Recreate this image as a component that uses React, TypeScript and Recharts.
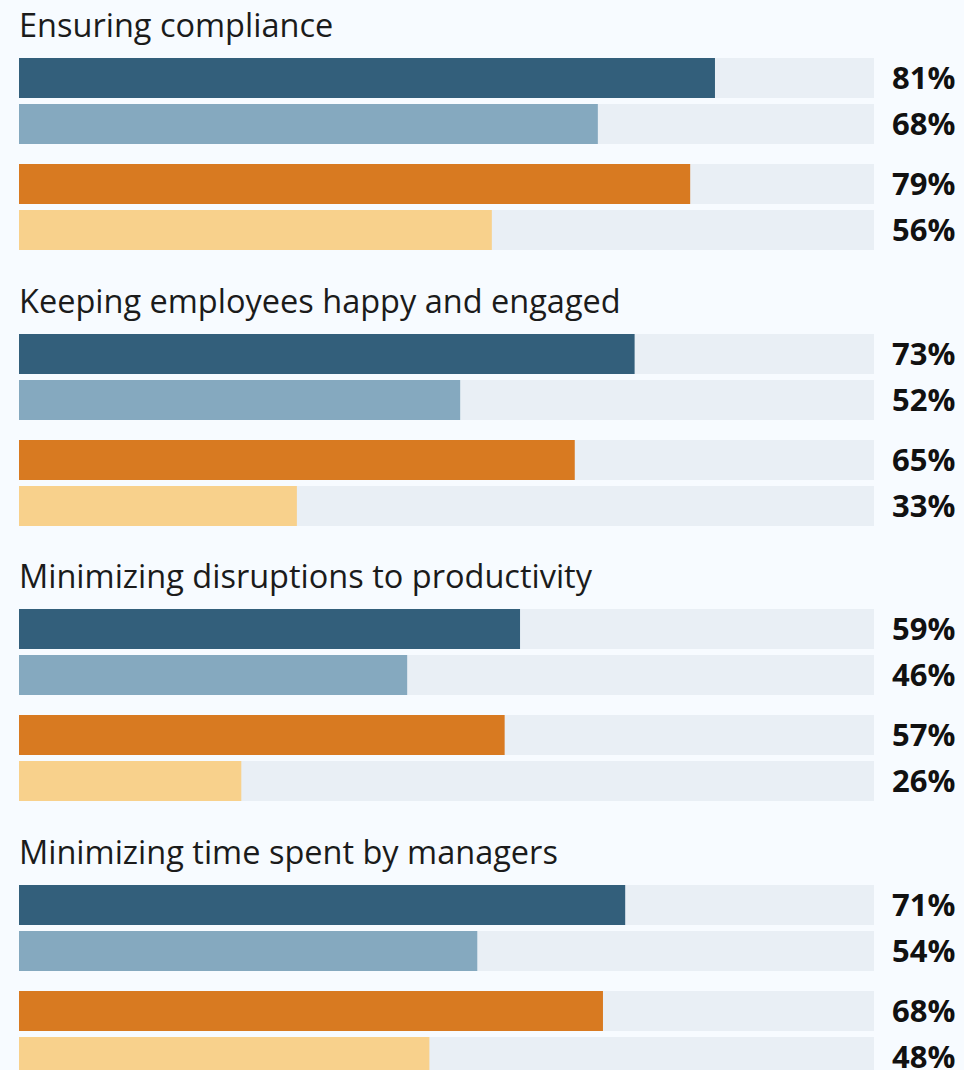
import { Bar, BarChart, XAxis, YAxis } from "recharts"

const groups = [
  "Ensuring compliance",
  "Keeping employees happy and engaged",
  "Minimizing disruptions to productivity",
  "Minimizing time spent by managers",
]

const rowNames = ["Blue A", "Blue B", "Orange A", "Orange B"]

// bar lengths, in percent
const values = [
  [81.4, 67.7, 78.5, 55.3],
  [72.0, 51.6, 65.0, 32.5],
  [58.6, 45.4, 56.8, 26.0],
  [70.9, 53.6, 68.3, 48.0],
]

// value labels as printed on the right
const labels = [
  ["81%", "68%", "79%", "56%"],
  ["73%", "52%", "65%", "33%"],
  ["59%", "46%", "57%", "26%"],
  ["71%", "54%", "68%", "48%"],
]

const colors = ["#335f7b", "#85a9bf", "#d87a21", "#f8d18c"]

const FONT = "'Open Sans', 'Noto Sans', sans-serif"

function PairChart({ rows }: { rows: { name: string; value: number; label: string; color: string }[] }) {
  return (
    <BarChart
      width={964}
      height={92}
      data={rows}
      layout="vertical"
      margin={{ top: 0, right: 0, bottom: 0, left: 19 }}
    >
      <XAxis type="number" domain={[0, 100]} hide />
      <YAxis yAxisId="left" type="category" dataKey="name" hide />
      <YAxis
        yAxisId="right"
        orientation="right"
        type="category"
        dataKey="label"
        width={90}
        axisLine={false}
        tickLine={false}
        tickMargin={12}
        tick={{ fill: "#111111", fontSize: 31, fontWeight: 700, fontFamily: FONT }}
      />
      <Bar
        yAxisId="left"
        dataKey="value"
        barSize={40}
        background={{ fill: "#e9eff5" }}
        isAnimationActive={false}
        shape={(p: any) => (
          <rect x={p.x} y={p.y} width={p.width} height={p.height} fill={p.payload.color} />
        )}
      />
    </BarChart>
  )
}

export default function App() {
  return (
    <div
      style={{
        position: "absolute",
        left: 0,
        top: 0,
        width: 964,
        height: 1070,
        background: "#f7fbff",
        overflow: "hidden",
        fontFamily: FONT,
      }}
    >
      {groups.map((title, gi) => {
        const rows = values[gi].map((v, i) => ({
          name: rowNames[i],
          value: v,
          label: labels[gi][i],
          color: colors[i],
        }))
        return (
          <div key={title} style={{ height: 275.67 }}>
            <div
              style={{
                boxSizing: "border-box",
                height: 55,
                paddingTop: 8,
                paddingLeft: 19,
                fontSize: 32.5,
                lineHeight: "33px",
                color: "#1b1b1b",
                whiteSpace: "nowrap",
              }}
            >
              {title}
            </div>
            <PairChart rows={rows.slice(0, 2)} />
            <div style={{ height: 14 }} />
            <PairChart rows={rows.slice(2, 4)} />
          </div>
        )
      })}
    </div>
  )
}
